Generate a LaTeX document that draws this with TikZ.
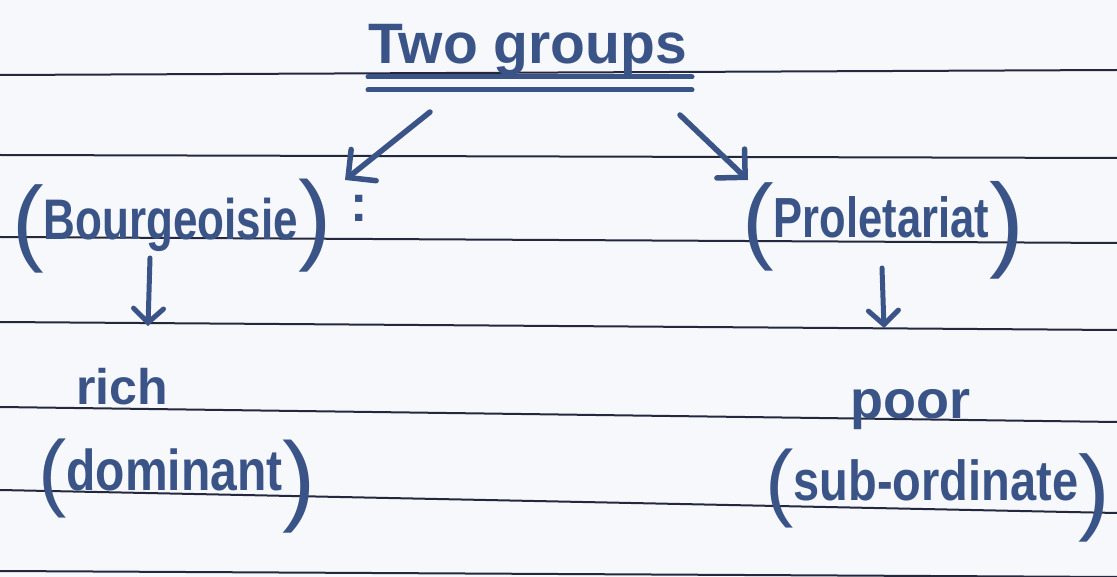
\documentclass[tikz,border=0pt]{standalone}
\usepackage{fontspec}
\setmainfont{Liberation Sans}
\usetikzlibrary{arrows.meta}
\definecolor{ink}{RGB}{58,84,135}
\definecolor{rulecol}{RGB}{35,40,62}
\definecolor{paper}{RGB}{247,248,251}
\newcommand{\hwsize}[1]{\fontsize{#1}{#1}\selectfont}
\newcommand{\hwparen}[3]{\raisebox{#2}{\mdseries\hwsize{#1}#3}}
\begin{document}
\begin{tikzpicture}[x=1pt,y=-1pt,
  hand/.style={text=ink, font=\bfseries, inner sep=0pt, anchor=base west},
  ruling/.style={draw=rulecol, line width=2pt},
  arr/.style={draw=ink, line width=5.5pt, line cap=round,
    -{Straight Barb[length=20pt,width=40pt,line cap=round]}},
  smallarr/.style={draw=ink, line width=5pt, line cap=round,
    -{Straight Barb[length=14pt,width=30pt,line cap=round]}},
  uline/.style={draw=ink, line width=5pt, line cap=round}]
\fill[paper] (0,0) rectangle (1117,577);
\useasboundingbox (0,0) rectangle (1117,577);
% ruled paper
\draw[ruling] (0,75) -- (1117,70);
\draw[ruling] (0,155) -- (1117,158);
\draw[ruling] (0,237) -- (1117,243);
\draw[ruling] (0,322) -- (1117,330);
\draw[ruling] (0,407) -- (1117,422);
\draw[ruling] (0,490) -- (1117,513);
\draw[ruling] (0,571) -- (1117,577);
% texts
\node[hand, font=\bfseries\hwsize{57}] (title) at (368,64) {Two groups};
\draw[uline] (368,77) -- (692,77);
\draw[uline] (368,90) -- (692,90);

\node[hand] (bourg) at (12,240)
  {\hwparen{95}{-14pt}{(}\hwsize{44}\scalebox{1}[1.3]{Bourgeoisie}\hwparen{100}{-12pt}{)}};
\node[hand, font=\bfseries\hwsize{52}] (colon) at (350,222) {:};

\node[hand] (prol) at (742,238)
  {\hwparen{95}{-14pt}{(}\hwsize{43.5}\scalebox{1}[1.3]{Proletariat}\hwparen{105}{-20pt}{)}};

\node[hand, font=\bfseries\hwsize{50}] (rich) at (76,405) {rich};
\node[hand] (dom) at (38,490)
  {\hwparen{85}{-10pt}{(}\hwsize{48}\scalebox{1}[1.2]{dominant}\hwparen{100}{-22pt}{)}};

\node[hand, font=\bfseries\hwsize{54}] (poor) at (850,418) {poor};
\node[hand] (sub) at (765,500)
  {\hwparen{85}{-10pt}{(}\hwsize{47}\scalebox{1}[1.2]{sub-ordinate}\hwparen{95}{-22pt}{)}};

% connectors
\coordinate (tl) at (430,112);
\coordinate (bl) at (345,180);
\coordinate (tr) at (680,115);
\coordinate (br) at (748,180);
\coordinate (dl1) at (150,258);
\coordinate (dl2) at (148,326);
\coordinate (dr1) at (882,268);
\coordinate (dr2) at (884,328);
\draw[arr] (tl) -- (bl);
\draw[arr] (tr) -- (br);
\draw[smallarr] (dl1) -- (dl2);
\draw[smallarr] (dr1) -- (dr2);
\end{tikzpicture}
\end{document}
